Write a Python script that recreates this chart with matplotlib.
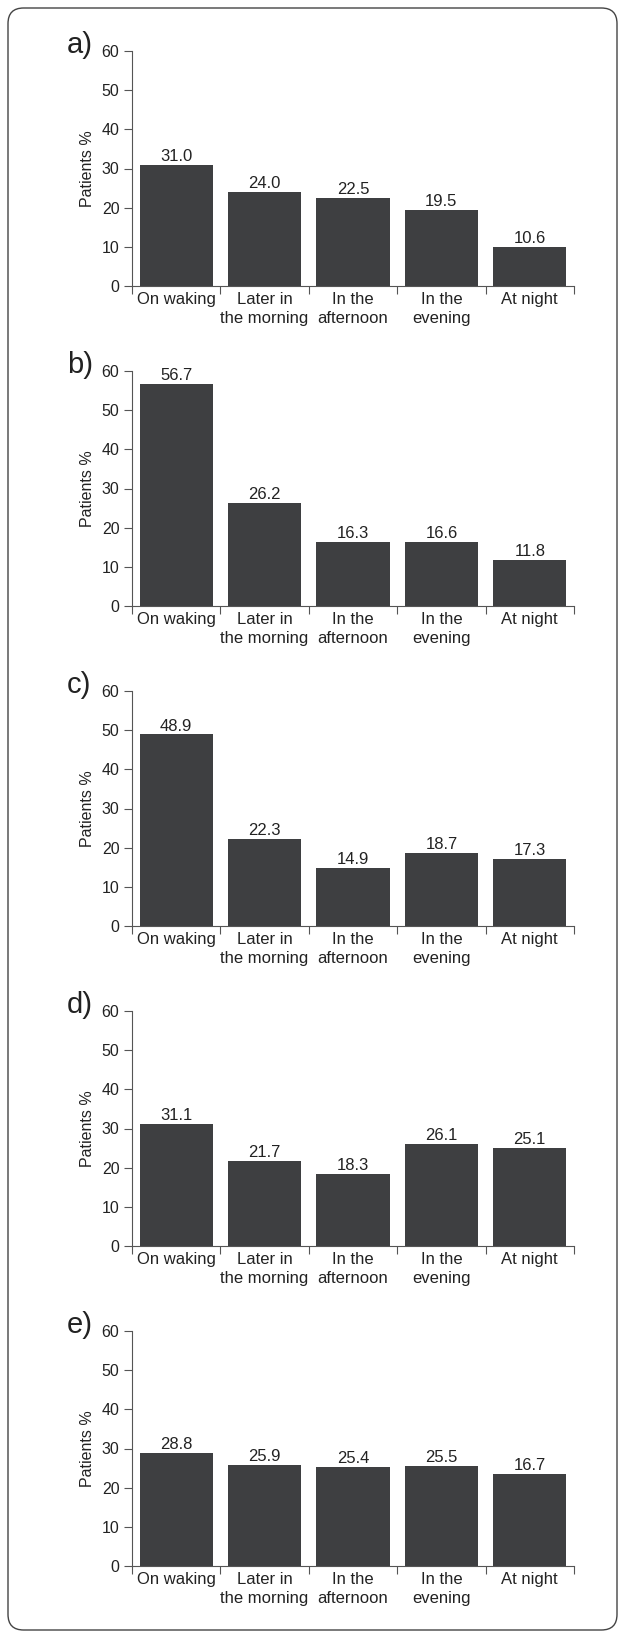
import matplotlib
matplotlib.use("Agg")
import matplotlib.pyplot as plt
from matplotlib.patches import FancyBboxPatch

plt.rcParams['font.family'] = ['Liberation Sans', 'DejaVu Sans']

# ------------------------------------------------------------
# Data
# ------------------------------------------------------------
categories = ["On waking", "Later in\nthe morning", "In the\nafternoon",
              "In the\nevening", "At night"]
panel_names = ["a)", "b)", "c)", "d)", "e)"]

# printed values above the bars
labels_a = [31.0, 24.0, 22.5, 19.5, 10.6]
labels_b = [56.7, 26.2, 16.3, 16.6, 11.8]
labels_c = [48.9, 22.3, 14.9, 18.7, 17.3]
labels_d = [31.1, 21.7, 18.3, 26.1, 25.1]
labels_e = [28.8, 25.9, 25.4, 25.5, 16.7]

# bar heights as drawn in the picture (a few differ from the printed labels)
heights_a = [31.0, 24.0, 22.5, 19.5, 10.0]
heights_b = [56.7, 26.2, 16.3, 16.3, 11.8]
heights_c = [48.9, 22.3, 14.9, 18.7, 17.1]
heights_d = [31.1, 21.7, 18.3, 26.1, 25.1]
heights_e = [28.8, 25.9, 25.4, 25.5, 23.6]

all_labels = [labels_a, labels_b, labels_c, labels_d, labels_e]
all_heights = [heights_a, heights_b, heights_c, heights_d, heights_e]

yticks = [0, 10, 20, 30, 40, 50, 60]

bar_color = "#3e3f41"
text_color = "#222222"
axis_color = "#555555"

W, H = 625, 1638
fig = plt.figure(figsize=(W / 100, H / 100), dpi=100)

# rounded frame around everything
frame = FancyBboxPatch((8 / W, 8 / H), (W - 16) / W, (H - 16) / H,
                       boxstyle="round,pad=0,rounding_size=0.025",
                       transform=fig.transFigure, fill=False,
                       edgecolor="#444444", linewidth=1.0,
                       mutation_aspect=W / H)
fig.patches.append(frame)

left_px, right_px = 132, 574
top0, bottom0 = 51, 286
step = 320

for i in range(5):
    top = top0 + step * i
    bottom = bottom0 + step * i
    ax = fig.add_axes([left_px / W, 1 - bottom / H,
                       (right_px - left_px) / W, (bottom - top) / H])
    x = list(range(len(categories)))
    ax.bar(x, all_heights[i], width=0.83, color=bar_color, zorder=2)
    for xi, h, lab in zip(x, all_heights[i], all_labels[i]):
        ax.text(xi, h + 1.0, f"{lab:.1f}", ha="center", va="baseline",
                fontsize=12, color=text_color)

    ax.set_xlim(-0.5, 4.5)
    ax.set_ylim(0, 60)
    ax.set_yticks(yticks)
    ax.tick_params(axis="y", direction="out", length=6, width=0.8,
                   colors=axis_color, labelcolor=text_color,
                   labelsize=11.5, pad=3)

    # tick marks at category boundaries, labels at centres
    ax.set_xticks([b - 0.5 for b in range(6)])
    ax.set_xticklabels([])
    ax.set_xticks(x, minor=True)
    ax.set_xticklabels(categories, minor=True, fontsize=12,
                       color=text_color, linespacing=1.35)
    ax.tick_params(axis="x", which="major", direction="out", length=6,
                   width=0.8, colors=axis_color)
    ax.tick_params(axis="x", which="minor", length=0, pad=4)

    for s in ["top", "right"]:
        ax.spines[s].set_visible(False)
    for s in ["left", "bottom"]:
        ax.spines[s].set_color(axis_color)
        ax.spines[s].set_linewidth(0.8)

    ax.set_ylabel("Patients %", fontsize=11.5, color=text_color, labelpad=5)

    fig.text(67 / W, 1 - (top + 2) / H, panel_names[i], fontsize=21,
             color=text_color, ha="left", va="baseline")

fig.savefig("out.png", dpi=100)
